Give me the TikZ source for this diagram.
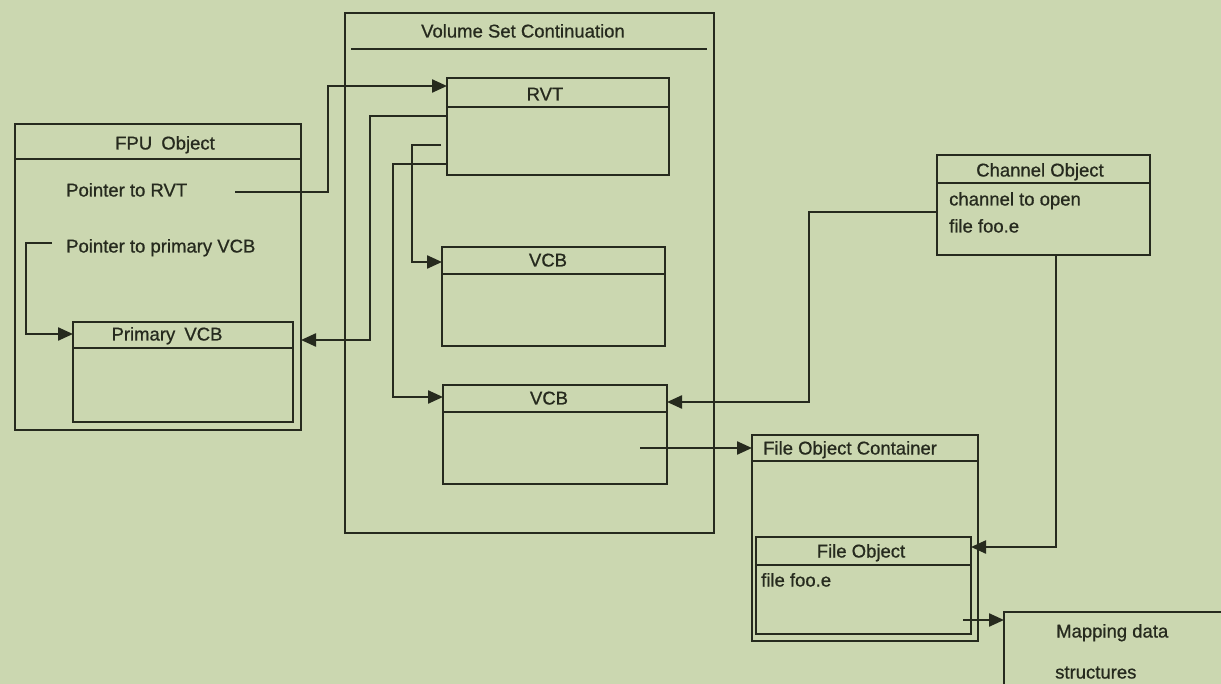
\documentclass[tikz,border=0pt]{standalone}
\usepackage{fontspec}
\setmainfont{Liberation Sans}
\newfontfamily\scanfont{Liberation Sans}[FakeBold=0.8]
\usetikzlibrary{arrows.meta}
\definecolor{paper}{RGB}{203,215,176}
\definecolor{ink}{RGB}{38,42,30}
\begin{document}
\begin{tikzpicture}[x=1pt,y=-1pt,
  box/.style={draw=ink, line width=2.3pt, inner sep=0pt, outer sep=0pt, anchor=north west},
  lbl/.style={text=ink, font=\scanfont\fontsize{18.5}{21}\selectfont, inner sep=0pt, text height=13pt, text depth=0pt},
  hdr/.style={draw=ink, line width=2.3pt},
  arr/.style={draw=ink, line width=2.3pt, -{Triangle[length=15pt,width=13pt]}}
]
\fill[paper] (0,0) rectangle (1221,684);
\useasboundingbox (0,0) rectangle (1221,684);
\clip (0,0) rectangle (1221,684);

% FPU Object
\node[box, minimum width=286pt, minimum height=306pt] (fpu) at (15,124) {};
\draw[hdr] (15,159) -- (301,159);
\node[lbl] (fputitle) at (165,143) {FPU\hspace{4pt} Object};
\node[lbl, anchor=west] (ptrrvt) at (66,190) {Pointer to RVT};
\node[lbl, anchor=west] (ptrvcb) at (66,246) {Pointer to primary VCB};
\node[box, minimum width=220pt, minimum height=100pt] (pvcb) at (73,322) {};
\draw[hdr] (73,348) -- (293,348);
\node[lbl] (pvcbtitle) at (167,334) {Primary\hspace{4pt} VCB};

% Volume Set Continuation
\node[box, minimum width=369pt, minimum height=520pt] (vsc) at (345,13) {};
\draw[hdr] (351,49) -- (707,49);
\node[lbl] (vsctitle) at (523,31) {Volume Set Continuation};

\node[box, minimum width=222pt, minimum height=97pt] (rvt) at (447,78) {};
\draw[hdr] (447,107) -- (669,107);
\node[lbl] (rvttitle) at (545,94) {RVT};

\node[box, minimum width=223pt, minimum height=99pt] (vcba) at (442,247) {};
\draw[hdr] (442,274) -- (665,274);
\node[lbl] (vcbatitle) at (548,260) {VCB};

\node[box, minimum width=224pt, minimum height=99pt] (vcbb) at (443,385) {};
\draw[hdr] (443,412) -- (667,412);
\node[lbl] (vcbbtitle) at (549,398) {VCB};

% Channel Object
\node[box, minimum width=213pt, minimum height=100pt] (chan) at (937,155) {};
\draw[hdr] (937,183) -- (1150,183);
\node[lbl] (chantitle) at (1040,170) {Channel Object};
\node[lbl, anchor=west] (chanl1) at (949,199) {channel to open};
\node[lbl, anchor=west] (chanl2) at (949,226) {file foo.e};

% File Object Container
\node[box, minimum width=226pt, minimum height=206pt] (foc) at (752,435) {};
\draw[hdr] (752,461) -- (978,461);
\node[lbl, anchor=west] (foctitle) at (763,448) {File Object Container};

\node[box, minimum width=215pt, minimum height=97pt] (fo) at (756,537) {};
\draw[hdr] (756,565) -- (971,565);
\node[lbl] (fotitle) at (861,551) {File Object};
\node[lbl, anchor=west] (fobody) at (761,580) {file foo.e};

% Mapping data structures
\node[box, minimum width=300pt, minimum height=200pt] (map) at (1004,612) {};
\node[lbl, anchor=west] (mapl1) at (1056,631) {Mapping data};
\node[lbl, anchor=west] (mapl2) at (1055,672) {structures};

% Connectors
\coordinate (c1) at (235,192);
\draw[arr] (c1) -- (328,192) -- (328,86) -- (rvt.west |- 0,86);

\coordinate (c2) at (52,243);
\draw[arr] (c2) -- (26,243) -- (26,334) -- (pvcb.west |- 0,334);

\draw[arr] (rvt.west |- 0,116) -- (370,116) -- (370,340) -- (fpu.east |- 0,340);

\coordinate (c4) at (441,145);
\draw[arr] (c4) -- (412,145) -- (412,262) -- (vcba.west |- 0,262);

\draw[arr] (rvt.west |- 0,164) -- (393,164) -- (393,397) -- (vcbb.west |- 0,397);

\draw[arr] (chan.west |- 0,212) -- (809,212) -- (809,402) -- (vcbb.east |- 0,402);

\coordinate (c7) at (640,448);
\draw[arr] (c7) -- (foc.west |- c7);

\draw[arr] (chan.south -| 1056,0) -- (1056,547) -- (fo.east |- 0,547);

\coordinate (c9) at (963,620);
\draw[arr] (c9) -- (map.west |- c9);
\end{tikzpicture}
\end{document}
